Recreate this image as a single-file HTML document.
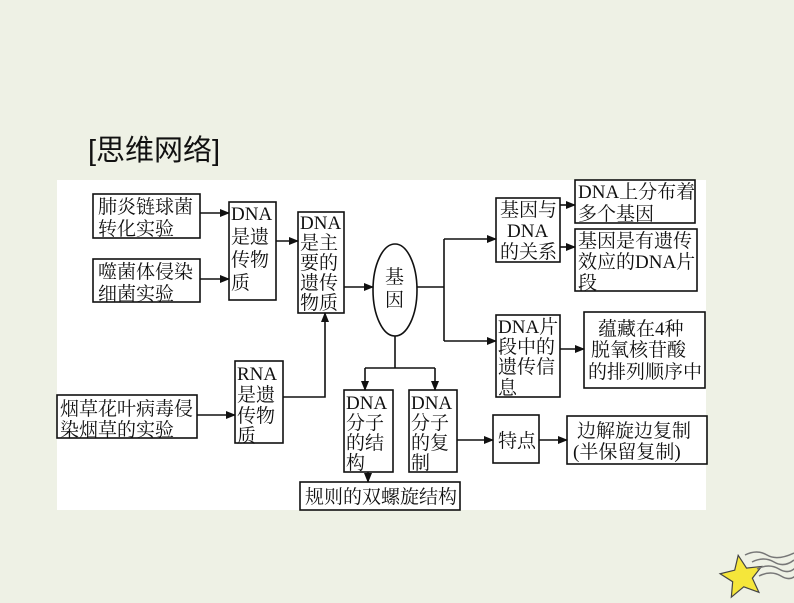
<!DOCTYPE html>
<html><head><meta charset="utf-8"><style>
html,body{margin:0;padding:0;background:#eef1e5;width:794px;height:603px;overflow:hidden}
svg{display:block}
text{font-family:"Liberation Serif","Noto Serif CJK SC",serif;font-size:19px;fill:#111}
</style></head><body>
<svg width="794" height="603" viewBox="0 0 794 603">
<defs><marker id="a" markerWidth="10" markerHeight="8" refX="9" refY="4" orient="auto" markerUnits="userSpaceOnUse"><path d="M0,0 L10,4 L0,8 z" fill="#111"/></marker></defs>
<text x="88" y="160" style="font-family:'Liberation Sans','Noto Sans CJK SC',sans-serif;font-size:29px">[思维网络]</text>
<rect x="57" y="180" width="649" height="330" fill="#fff"/>
<g fill="none" stroke="#111" stroke-width="1.6">
<rect x="93" y="194" width="107" height="44"/>
<rect x="93" y="259" width="107" height="43"/>
<rect x="229" y="202" width="47" height="98"/>
<rect x="298" y="212" width="46" height="101"/>
<ellipse cx="395" cy="290" rx="22" ry="46"/>
<rect x="57" y="395" width="140" height="43"/>
<rect x="235" y="361" width="48" height="82"/>
<rect x="344" y="390" width="49" height="82"/>
<rect x="409" y="390" width="48" height="82"/>
<rect x="300" y="482" width="160" height="28"/>
<rect x="496" y="198" width="64" height="64"/>
<rect x="575" y="180" width="120" height="43"/>
<rect x="575" y="229" width="122" height="62"/>
<rect x="496" y="315" width="64" height="82"/>
<rect x="584" y="312" width="121" height="76"/>
<rect x="493" y="415" width="46" height="48"/>
<rect x="567" y="416" width="140" height="48"/>
<g marker-end="url(#a)">
<line x1="200" y1="213" x2="229" y2="213"/>
<line x1="200" y1="279" x2="229" y2="279"/>
<line x1="276" y1="241" x2="298" y2="241"/>
<line x1="344" y1="287" x2="373" y2="287"/>
<line x1="197" y1="415" x2="235" y2="415"/>
<polyline points="283,397 325,397 325,313"/>
<polyline points="365,368 365,390"/>
<polyline points="435,368 435,390"/>
<line x1="368" y1="472" x2="368" y2="482"/>
<polyline points="444,239 496,239"/>
<polyline points="444,341 496,341"/>
<line x1="560" y1="205" x2="575" y2="205"/>
<line x1="560" y1="247" x2="575" y2="247"/>
<line x1="560" y1="349" x2="584" y2="349"/>
<line x1="457" y1="440" x2="493" y2="440"/>
<line x1="539" y1="440" x2="567" y2="440"/>
</g>
<polyline points="417,287 444,287"/>
<line x1="444" y1="239" x2="444" y2="341"/>
<line x1="395" y1="336" x2="395" y2="368"/>
<line x1="365" y1="368" x2="435" y2="368"/>
</g>
<text x="98" y="213">肺炎链球菌</text><text x="98" y="235">转化实验</text>
<text x="98" y="278">噬菌体侵染</text><text x="98" y="300">细菌实验</text>
<text x="231" y="220">DNA</text><text x="231" y="243">是遗</text><text x="231" y="266">传物</text><text x="231" y="289">质</text>
<text x="300" y="229">DNA</text><text x="300" y="249">是主</text><text x="300" y="269">要的</text><text x="300" y="289">遗传</text><text x="300" y="309">物质</text>
<text x="385" y="283">基</text><text x="385" y="306">因</text>
<text x="60" y="415">烟草花叶病毒侵</text><text x="60" y="436">染烟草的实验</text>
<text x="237" y="380">RNA</text><text x="237" y="401">是遗</text><text x="237" y="422">传物</text><text x="237" y="442">质</text>
<text x="346" y="409">DNA</text><text x="346" y="429">分子</text><text x="346" y="449">的结</text><text x="346" y="469">构</text>
<text x="411" y="409">DNA</text><text x="411" y="429">分子</text><text x="411" y="449">的复</text><text x="411" y="469">制</text>
<text x="305" y="503">规则的双螺旋结构</text>
<text x="500" y="216">基因与</text><text x="507" y="237">DNA</text><text x="500" y="258">的关系</text>
<text x="578" y="198">DNA上分布着</text><text x="578" y="220">多个基因</text>
<text x="578" y="247">基因是有遗传</text><text x="578" y="268">效应的DNA片</text><text x="578" y="289">段</text>
<text x="498" y="333">DNA片</text><text x="498" y="353">段中的</text><text x="498" y="373">遗传信</text><text x="498" y="394">息</text>
<text x="598" y="335">蕴藏在4种</text><text x="591" y="356">脱氧核苷酸</text><text x="588" y="378">的排列顺序中</text>
<text x="498" y="447">特点</text>
<text x="577" y="437">边解旋边复制</text><text x="573" y="458">(半保留复制)</text>
<g transform="translate(742,577) rotate(-10)">
<path d="M0,-22 L6,-8 L21,-7 L10,3 L14,18 L0,10 L-14,18 L-10,3 L-21,-7 L-6,-8 Z" fill="#f5e63a" stroke="#444" stroke-width="1.2"/>
</g>
<g fill="none" stroke="#777" stroke-width="1.5">
<path d="M745,555 q12,-6 22,0 t27,-2"/><path d="M752,562 q12,-6 22,0 t20,-2"/><path d="M757,569 q12,-6 22,0 t17,-2"/><path d="M759,576 q12,-6 22,0 t16,-2"/>
</g>
</svg>
</body></html>
